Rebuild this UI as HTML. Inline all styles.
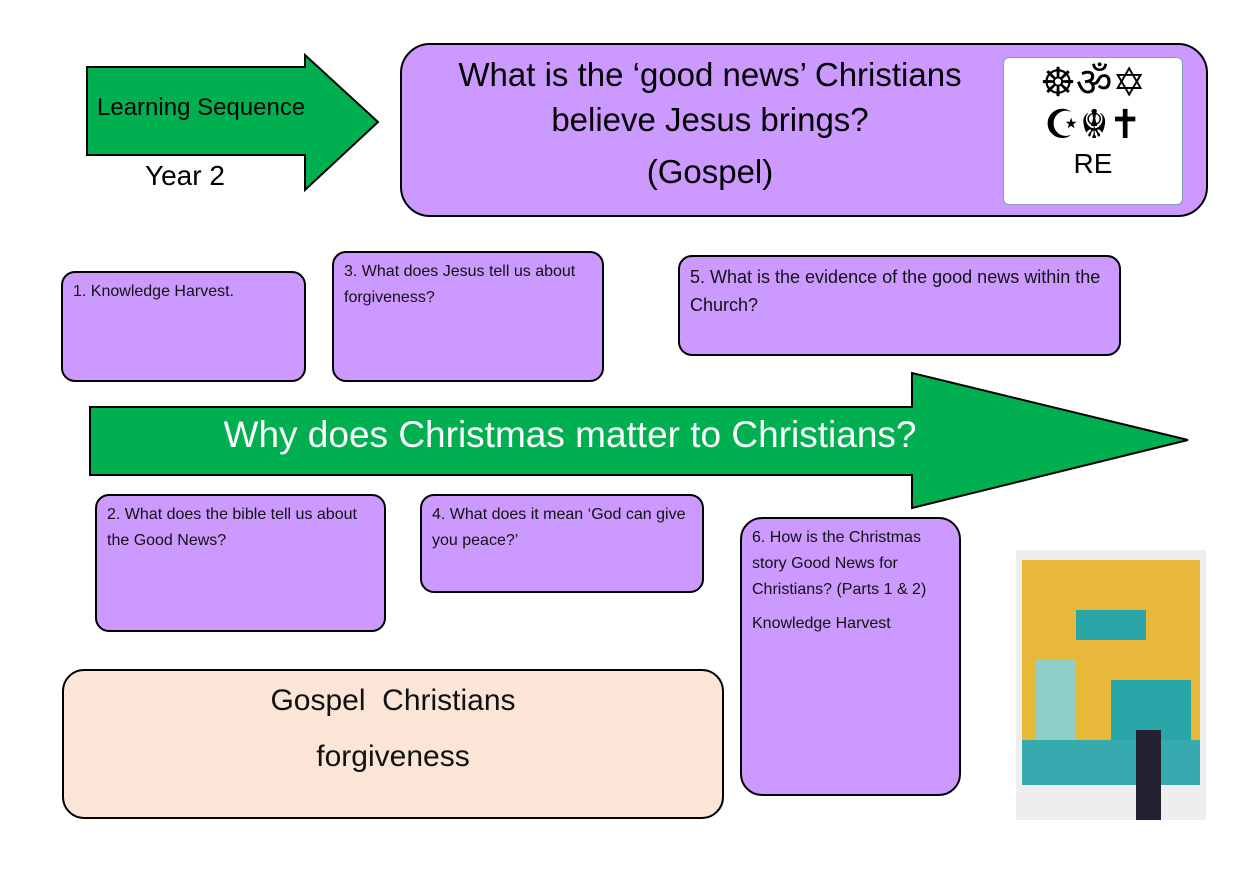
<!DOCTYPE html>
<html><head><style>
body{margin:0;width:1260px;height:891px;background:#fff;position:relative;overflow:hidden;font-family:"Liberation Sans","DejaVu Sans",sans-serif;}
.b{position:absolute;background:#cc99ff;border:2.5px solid #000;border-radius:14px;box-sizing:border-box;font-size:16px;color:#111;padding:6px 10px;line-height:26px;}
.t{position:absolute;white-space:nowrap;}
</style></head><body>
<svg width="1260" height="891" style="position:absolute;left:0;top:0">
<polygon points="87,67 305,67 305,55 378,122 305,190 305,155 87,155" fill="#00b050" stroke="#000" stroke-width="2"/>
<polygon points="90,407 912,407 912,373 1188,440 912,508 912,475 90,475" fill="#00b050" stroke="#000" stroke-width="2"/>
</svg>
<div class="t" style="left:97px;top:94px;font-size:24px">Learning Sequence</div>
<div class="t" style="left:145px;top:160px;font-size:28px">Year 2</div>
<div class="b" style="left:400px;top:43px;width:808px;height:174px;border-radius:30px"></div>
<div class="t" style="left:400px;top:52px;width:620px;text-align:center;font-size:33px;line-height:45px;white-space:normal">What is the ‘good news’ Christians<br>believe Jesus brings?<br><span style="line-height:60px">(Gospel)</span></div>
<div style="position:absolute;left:1003px;top:57px;width:180px;height:148px;background:#fff;border:1px solid #8899bb;border-radius:6px;box-sizing:border-box;text-align:center">
<div style="font-size:40px;line-height:42px;margin-top:4px;font-family:'DejaVu Sans',sans-serif">☸ॐ✡<br>☪☬✝</div>
<div style="font-size:28px;margin-top:2px">RE</div></div>
<div class="b" style="left:61px;top:271px;width:245px;height:111px">1. Knowledge Harvest.</div>
<div class="b" style="left:332px;top:251px;width:272px;height:131px">3. What does Jesus tell us about forgiveness?</div>
<div class="b" style="left:678px;top:255px;width:443px;height:101px;font-size:18px;line-height:28px">5. What is the evidence of the good news within the Church?</div>
<div class="t" style="left:160px;top:414px;width:820px;text-align:center;color:#fff;font-size:37px">Why does Christmas matter to Christians?</div>
<div class="b" style="left:95px;top:494px;width:291px;height:138px">2. What does the bible tell us about the Good News?</div>
<div class="b" style="left:420px;top:494px;width:284px;height:99px">4. What does it mean ‘God can give you peace?’</div>
<div class="b" style="left:740px;top:517px;width:221px;height:279px;border-radius:22px">6. How is the Christmas story Good News for Christians? (Parts 1 &amp; 2)<div style="margin-top:8px">Knowledge Harvest</div></div>
<div class="b" style="left:62px;top:669px;width:662px;height:150px;background:#fbe5d6;border-radius:22px;text-align:center;font-size:30px;line-height:56px;padding-top:2px">Gospel &nbsp;Christians<br>forgiveness</div>
<div style="position:absolute;left:1016px;top:550px;width:190px;height:270px;background:#eee">
<div style="position:absolute;left:6px;top:10px;width:178px;height:225px;background:#e8b83a"></div>
<div style="position:absolute;left:60px;top:60px;width:70px;height:30px;background:#2aa6a8"></div>
<div style="position:absolute;left:20px;top:110px;width:40px;height:80px;background:#8fd0c8"></div>
<div style="position:absolute;left:95px;top:130px;width:80px;height:60px;background:#2aa6a8"></div>
<div style="position:absolute;left:6px;top:190px;width:178px;height:45px;background:#37aab0"></div>
<div style="position:absolute;left:120px;top:180px;width:25px;height:90px;background:#223"></div>
</div>
</body></html>
